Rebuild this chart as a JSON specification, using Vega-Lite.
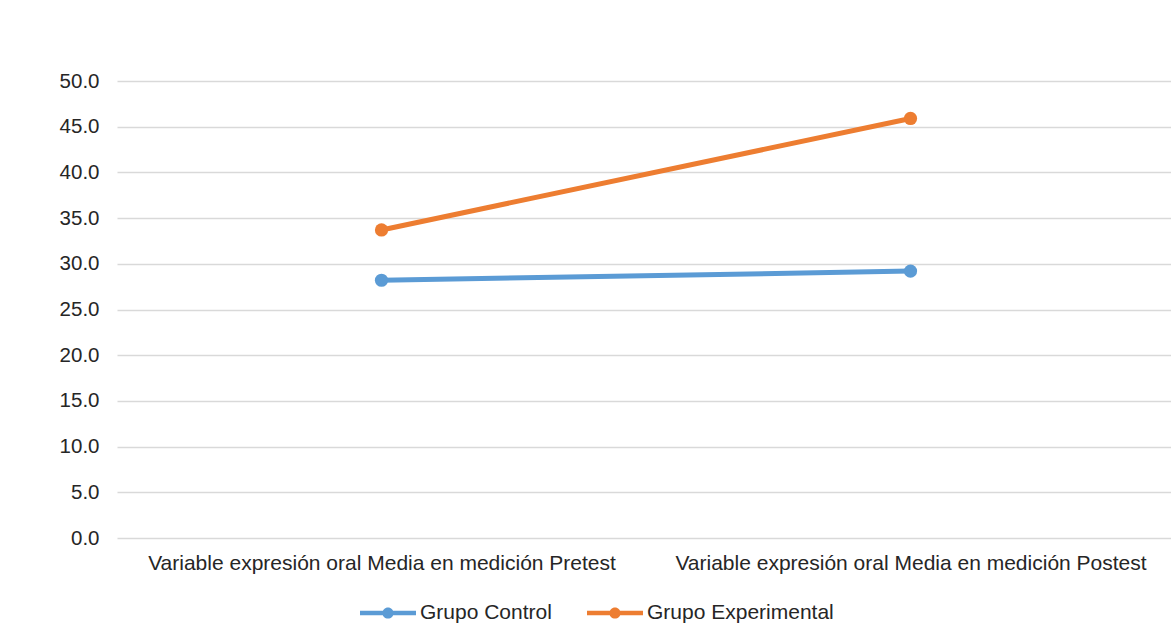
{
  "$schema": "https://vega.github.io/schema/vega-lite/v6.json",
  "autosize": "none",
  "width": 1058,
  "height": 457,
  "padding": {"left": 117, "top": 81, "right": 0, "bottom": 105},
  "background": "white",
  "config": {
    "view": {"stroke": null},
    "font": "Liberation Sans"
  },
  "data": {
    "values": [
      {"medicion": "Variable expresión oral Media en medición Pretest", "grupo": "Grupo Control", "media": 28.2},
      {"medicion": "Variable expresión oral Media en medición Postest", "grupo": "Grupo Control", "media": 29.2},
      {"medicion": "Variable expresión oral Media en medición Pretest", "grupo": "Grupo Experimental", "media": 33.7},
      {"medicion": "Variable expresión oral Media en medición Postest", "grupo": "Grupo Experimental", "media": 45.9}
    ]
  },
  "encoding": {
    "x": {
      "field": "medicion",
      "type": "nominal",
      "sort": ["Variable expresión oral Media en medición Pretest", "Variable expresión oral Media en medición Postest"],
      "scale": {"paddingInner": 0, "paddingOuter": 0},
      "axis": {
        "title": null, "labelAngle": 0, "domain": false, "ticks": false, "grid": false,
        "labelFontSize": 21, "labelColor": "#262626", "labelPadding": 14, "labelLimit": 700
      }
    },
    "y": {
      "field": "media",
      "type": "quantitative",
      "scale": {"domain": [0, 50], "nice": false},
      "axis": {
        "title": null, "values": [0, 5, 10, 15, 20, 25, 30, 35, 40, 45, 50], "format": ".1f",
        "domain": false, "ticks": false, "gridColor": "#D9D9D9", "gridWidth": 1.5,
        "labelFontSize": 20.5, "labelColor": "#262626", "labelPadding": 18
      }
    },
    "color": {
      "field": "grupo",
      "type": "nominal",
      "scale": {"domain": ["Grupo Control", "Grupo Experimental"], "range": ["#5B9BD5", "#ED7D31"]},
      "legend": {
        "title": null,
        "orient": "none",
        "direction": "horizontal",
        "legendX": 243,
        "legendY": 504,
        "symbolType": "M-1,-0.08 L1,-0.08 L1,0.08 L-1,0.08 Z M-0.2,0 A0.2,0.2 0 1,1 0.2,0 A0.2,0.2 0 1,1 -0.2,0 Z",
        "symbolSize": 3136,
        "symbolStrokeWidth": 0,
        "labelFontSize": 21,
        "labelColor": "#262626",
        "labelOffset": 4,
        "labelLimit": 400,
        "columnPadding": 35,
        "encode": {"symbols": {"update": {"fill": {"scale": "color", "field": "value"}, "opacity": {"value": 1}, "strokeWidth": {"value": 0}}}}
      }
    }
  },
  "layer": [
    {"mark": {"type": "line", "strokeWidth": 5}},
    {"mark": {"type": "point", "filled": true, "size": 175, "opacity": 1}}
  ]
}
